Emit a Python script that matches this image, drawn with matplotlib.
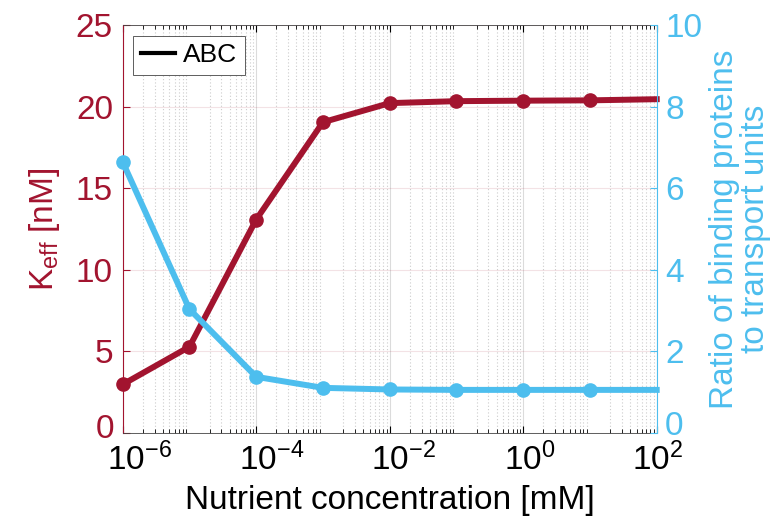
import matplotlib
matplotlib.use('Agg')
import matplotlib.pyplot as plt
import matplotlib.ticker as mticker
import matplotlib.transforms as mtransforms
import numpy as np

plt.rcParams['font.family'] = ['Liberation Sans', 'DejaVu Sans']
plt.rcParams['mathtext.fontset'] = 'custom'
plt.rcParams['mathtext.rm'] = 'Liberation Sans'
plt.rcParams['mathtext.it'] = 'Liberation Sans:italic'

# data
conc = [1e-6, 1e-5, 1e-4, 1e-3, 1e-2, 1e-1, 1e0, 1e1, 1e2]
k_eff = [2.96, 5.27, 13.07, 19.04, 20.21, 20.33, 20.36, 20.38, 20.45]
ratio = [6.64, 3.03, 1.37, 1.10, 1.06, 1.05, 1.05, 1.05, 1.05]
xticks = [1e-6, 1e-4, 1e-2, 1e0, 1e2]
xticklabels = ['$10^{-6}$', '$10^{-4}$', '$10^{-2}$', '$10^{0}$', '$10^{2}$']
left_ticks = [0, 5, 10, 15, 20, 25]
right_ticks = [0, 2, 4, 6, 8, 10]

red = '#A2142F'
blue = '#4DBEEE'
fs = 24

fig = plt.figure(figsize=(7.83, 5.21), dpi=100)
ax = fig.add_axes([0.1567, 0.1695, 0.682, 0.7825])
ax2 = ax.twinx()

ax.set_axisbelow(True)
ax.plot(conc, k_eff, color=red, lw=4.3, marker='o', ms=9.5,
        markevery=list(range(len(conc) - 1)), zorder=3, clip_on=False)
ax2.plot(conc, ratio, color=blue, lw=4.3, marker='o', ms=9.5,
         markevery=list(range(len(conc) - 1)), zorder=3, clip_on=False)
ax.plot([], [], color='black', lw=3, label='ABC')

ax.set_xscale('log')
ax.set_xlim(1e-6, 1e2)
ax.set_ylim(0, 25)
ax2.set_ylim(0, 10)
ax.set_xticks(xticks)
ax.set_xticklabels([])
ax.xaxis.set_minor_locator(mticker.LogLocator(base=10, subs=np.arange(2, 10), numticks=20))
ax.xaxis.set_minor_formatter(mticker.NullFormatter())

# y tick labels; the bottom "0" sits a little higher in the original
ax.set_yticks(left_ticks)
ax.set_yticklabels([''] + [str(t) for t in left_ticks[1:]])
ax2.set_yticks(right_ticks)
ax2.set_yticklabels([''] + [str(t) for t in right_ticks[1:]])
tr0 = ax.transAxes + mtransforms.ScaledTranslation(-0.08, 0.03, fig.dpi_scale_trans)
ax.text(0, 0, str(left_ticks[0]), transform=tr0, ha='right', va='center', fontsize=fs, color=red)
tr1 = ax.transAxes + mtransforms.ScaledTranslation(0.08, 0.06, fig.dpi_scale_trans)
ax.text(1, 0, str(right_ticks[0]), transform=tr1, ha='left', va='center', fontsize=fs, color=blue)

# x tick labels placed as texts, nudged right like the original (MATLAB style)
for xt, lab, dx in zip(xticks, xticklabels, [17, 15, 14, 7, 1]):
    tr = ax.get_xaxis_transform() + mtransforms.ScaledTranslation(dx / 100, -0.10, fig.dpi_scale_trans)
    ax.text(xt, 0, lab, transform=tr, ha='center', va='top', fontsize=fs)

# grids
ax.grid(True, which='major', axis='x', color='#cccccc', lw=0.8, alpha=0.7)
ax.grid(True, which='minor', axis='x', color='#cccccc', lw=0.8, ls=(0, (1, 2)))
ax.grid(True, which='major', axis='y', color=red, lw=0.8, alpha=0.12)

ax.tick_params(axis='x', which='both', direction='in', top=True, colors='black')
ax.tick_params(axis='x', which='major', length=5)
ax.tick_params(axis='x', which='minor', length=3)
ax.tick_params(axis='y', direction='in', length=5, labelsize=fs, colors=red, pad=7)
ax2.tick_params(axis='y', direction='in', length=5, labelsize=fs, colors=blue, pad=6)

for s in ['top', 'bottom']:
    ax.spines[s].set_color('#444444')
    ax.spines[s].set_linewidth(0.6)
ax.spines['left'].set_color(red)
ax2.spines['left'].set_visible(False)
ax2.spines['top'].set_visible(False)
ax2.spines['bottom'].set_visible(False)
ax.spines['right'].set_visible(False)
ax2.spines['right'].set_color(blue)

ax.set_xlabel('Nutrient concentration [mM]', fontsize=fs, labelpad=34)
ax.set_ylabel(r'K$_{\mathrm{eff}}$ [nM]', fontsize=fs, color=red, labelpad=10)
ax2.set_ylabel('Ratio of binding proteins\nto transport units', fontsize=fs,
               color=blue, labelpad=5, linespacing=1.0)

leg = ax.legend(loc='upper left', fontsize=19, handlelength=1.3, handletextpad=0.3,
                borderpad=0.3, fancybox=False, edgecolor='#444444', framealpha=1,
                bbox_to_anchor=(0.0, 1.0), borderaxespad=0.4)
leg.get_frame().set_linewidth(0.6)

fig.savefig('out.png', dpi=100)
